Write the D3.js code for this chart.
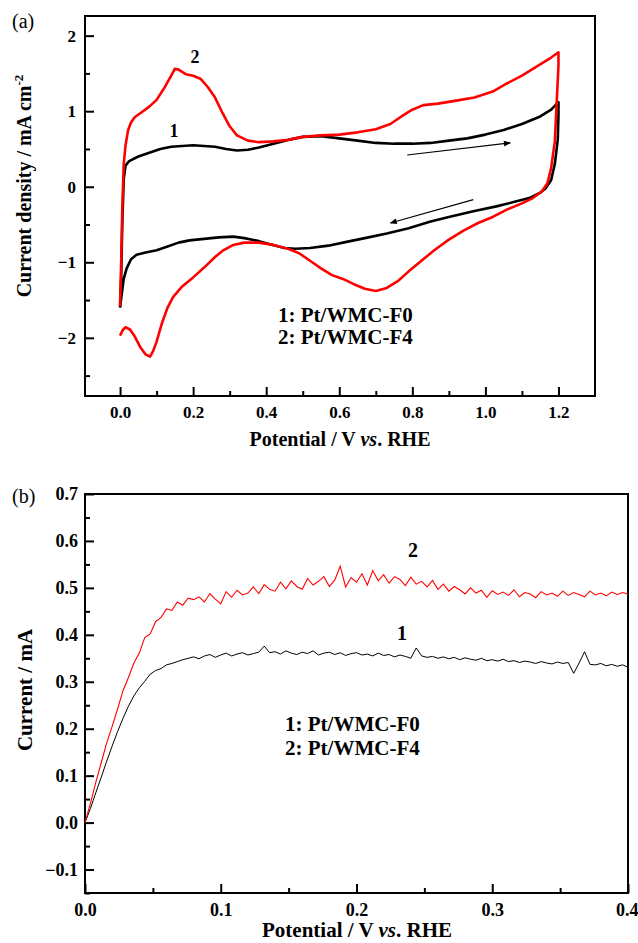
<!DOCTYPE html>
<html>
<head>
<meta charset="utf-8">
<script src="https://cdn.jsdelivr.net/npm/d3@7"></script>
<style>
  body { margin: 0; background: #fff; }
  text { font-family: "Liberation Serif", "Times New Roman", serif; }
</style>
</head>
<body>
<script>
'use strict';

// ---- panel (a): cyclic voltammograms, [potential, current density] ----
const cvF0 = [
  [0.0, -1.60], [0.003, -1.2], [0.006, -0.5], [0.01, 0.1], [0.015, 0.28], [0.025, 0.34],
  [0.05, 0.40], [0.08, 0.45], [0.11, 0.50], [0.14, 0.53], [0.17, 0.54], [0.2, 0.55],
  [0.23, 0.54], [0.26, 0.53], [0.29, 0.50], [0.32, 0.48], [0.35, 0.49], [0.38, 0.52],
  [0.42, 0.57], [0.46, 0.62], [0.5, 0.66], [0.55, 0.67], [0.6, 0.64], [0.65, 0.61],
  [0.7, 0.58], [0.75, 0.57], [0.8, 0.57], [0.85, 0.58], [0.9, 0.61], [0.95, 0.64],
  [1.0, 0.69], [1.05, 0.75], [1.1, 0.83], [1.15, 0.93], [1.18, 1.02], [1.2, 1.12],
  [1.2, 0.95], [1.198, 0.62], [1.19, 0.3], [1.18, 0.09], [1.165, -0.02], [1.15, -0.08],
  [1.12, -0.15], [1.08, -0.2], [1.03, -0.26], [0.97, -0.32], [0.9, -0.40], [0.85, -0.46],
  [0.79, -0.55], [0.73, -0.62], [0.67, -0.68], [0.62, -0.73], [0.57, -0.78], [0.52, -0.81],
  [0.48, -0.82], [0.45, -0.81], [0.41, -0.76], [0.38, -0.72], [0.34, -0.68], [0.31, -0.66],
  [0.27, -0.67], [0.23, -0.69], [0.19, -0.71], [0.16, -0.74], [0.13, -0.79], [0.1, -0.84],
  [0.07, -0.87], [0.045, -0.9], [0.03, -0.96], [0.018, -1.08], [0.01, -1.22], [0.005, -1.4],
  [0.0, -1.6]
];

const cvF4 = [
  [0.0, -1.58], [0.003, -1.0], [0.006, -0.3], [0.01, 0.3], [0.015, 0.55], [0.022, 0.75],
  [0.03, 0.85], [0.04, 0.92], [0.06, 0.99], [0.08, 1.06], [0.1, 1.15], [0.12, 1.30],
  [0.14, 1.47], [0.15, 1.56], [0.16, 1.55], [0.18, 1.49], [0.2, 1.47], [0.22, 1.43],
  [0.24, 1.32], [0.26, 1.18], [0.28, 0.98], [0.3, 0.80], [0.32, 0.68], [0.35, 0.61],
  [0.38, 0.59], [0.42, 0.60], [0.46, 0.62], [0.5, 0.66], [0.55, 0.68], [0.6, 0.69],
  [0.65, 0.72], [0.7, 0.76], [0.74, 0.83], [0.77, 0.93], [0.8, 1.02], [0.83, 1.08],
  [0.87, 1.1], [0.92, 1.14], [0.97, 1.18], [1.02, 1.26], [1.06, 1.37], [1.1, 1.47],
  [1.14, 1.59], [1.18, 1.71], [1.2, 1.78],
  [1.2, 1.6], [1.195, 1.1], [1.19, 0.6], [1.18, 0.25], [1.17, 0.05], [1.155, -0.06],
  [1.13, -0.15], [1.1, -0.22], [1.06, -0.3], [1.02, -0.4], [0.98, -0.48], [0.94, -0.58],
  [0.9, -0.70], [0.86, -0.84], [0.82, -1.0], [0.79, -1.12], [0.76, -1.25], [0.73, -1.34],
  [0.70, -1.38], [0.67, -1.35], [0.64, -1.29], [0.61, -1.22], [0.58, -1.17], [0.55, -1.08],
  [0.52, -0.98], [0.49, -0.88], [0.46, -0.82], [0.42, -0.77], [0.38, -0.74], [0.34, -0.74],
  [0.31, -0.77], [0.28, -0.85], [0.26, -0.93], [0.23, -1.07], [0.2, -1.2], [0.17, -1.32],
  [0.145, -1.46], [0.13, -1.6], [0.115, -1.8], [0.1, -2.05], [0.09, -2.18], [0.082, -2.25],
  [0.07, -2.22], [0.055, -2.12], [0.04, -1.98], [0.027, -1.89], [0.015, -1.86], [0.007, -1.9],
  [0.0, -1.97]
];

// scan direction arrows, [x1, y1, x2, y2] in data units
const cvArrows = [
  [0.786, 0.42, 1.068, 0.58],
  [0.967, -0.17, 0.74, -0.48]
];

const cvTicksX = [0.0, 0.2, 0.4, 0.6, 0.8, 1.0, 1.2];
const cvTicksY = [-2, -1, 0, 1, 2];

// ---- panel (b): linear sweeps, potential step 0.004 V ----
const lsvPotential = d3.range(0, 101).map(i => +(i * 0.004).toFixed(3));

const lsvF0 = [
  0.000, 0.030, 0.064, 0.097, 0.131, 0.163, 0.194, 0.222, 0.248, 0.270,
  0.287, 0.301, 0.316, 0.324, 0.328, 0.336, 0.339, 0.343, 0.347, 0.350,
  0.353, 0.349, 0.355, 0.358, 0.352, 0.357, 0.361, 0.355, 0.359, 0.362,
  0.357, 0.360, 0.363, 0.376, 0.362, 0.364, 0.359, 0.366, 0.361, 0.358,
  0.363, 0.360, 0.366, 0.357, 0.361, 0.363, 0.358, 0.362, 0.356, 0.360,
  0.362, 0.357, 0.359, 0.355, 0.361, 0.356, 0.358, 0.353, 0.357, 0.354,
  0.350, 0.372, 0.355, 0.352, 0.354, 0.350, 0.353, 0.349, 0.352, 0.347,
  0.351, 0.348, 0.346, 0.350, 0.345, 0.347, 0.344, 0.348, 0.343, 0.345,
  0.341, 0.344, 0.342, 0.339, 0.343, 0.340, 0.338, 0.342, 0.339, 0.341,
  0.318, 0.340, 0.364, 0.337, 0.336, 0.339, 0.334, 0.337, 0.333, 0.336,
  0.331
];

const lsvF4 = [
  0.000, 0.041, 0.086, 0.128, 0.170, 0.205, 0.242, 0.281, 0.309, 0.340,
  0.361, 0.394, 0.402, 0.428, 0.437, 0.455, 0.452, 0.470, 0.463, 0.478,
  0.475, 0.481, 0.470, 0.488, 0.476, 0.466, 0.492, 0.480, 0.495, 0.485,
  0.489, 0.502, 0.488, 0.507, 0.497, 0.493, 0.512, 0.498, 0.515, 0.503,
  0.497, 0.520, 0.506, 0.514, 0.524, 0.503, 0.517, 0.546, 0.502, 0.522,
  0.512, 0.530, 0.506, 0.537, 0.515, 0.528, 0.510, 0.524, 0.518, 0.505,
  0.523, 0.508, 0.514, 0.502, 0.516, 0.497, 0.508, 0.493, 0.503, 0.496,
  0.487, 0.500, 0.489, 0.495, 0.480, 0.494, 0.486, 0.491, 0.484, 0.496,
  0.481, 0.490, 0.487, 0.479, 0.492, 0.485, 0.489, 0.482, 0.493, 0.484,
  0.490, 0.486, 0.481, 0.493, 0.485, 0.489, 0.483, 0.491, 0.486, 0.490,
  0.487
];

const lsvTicksX = [0.0, 0.1, 0.2, 0.3, 0.4];
const lsvTicksY = [-0.1, 0.0, 0.1, 0.2, 0.3, 0.4, 0.5, 0.6, 0.7];

const legendLabels = ['1: Pt/WMC-F0', '2: Pt/WMC-F4'];

let svgContainer = d3.select('body')
  .append('svg')
  .attr('width', 638)
  .attr('height', 943);

svgContainer.append('defs').append('marker')
  .attr('id', 'arrowhead')
  .attr('viewBox', '0 0 10 10')
  .attr('refX', 9)
  .attr('refY', 5)
  .attr('markerWidth', 9)
  .attr('markerHeight', 7)
  .attr('markerUnits', 'userSpaceOnUse')
  .attr('orient', 'auto')
  .append('path')
  .attr('d', 'M0,1 L10,5 L0,9 z')
  .attr('fill', '#000');

// draw a framed panel with inward major/minor ticks, returns scales
function drawFrame(opt) {
  let xScale = d3.scaleLinear().domain(opt.xDomain).range([opt.left, opt.right]);
  let yScale = d3.scaleLinear().domain(opt.yDomain).range([opt.bottom, opt.top]);
  let g = svgContainer.append('g');

  // minor ticks
  g.append('g')
    .attr('transform', 'translate(0,' + opt.bottom + ')')
    .call(d3.axisBottom(xScale).tickValues(opt.xMinor).tickSize(-5).tickFormat(''));
  g.append('g')
    .attr('transform', 'translate(' + opt.left + ',0)')
    .call(d3.axisLeft(yScale).tickValues(opt.yMinor).tickSize(-5).tickFormat(''));

  // major ticks with labels
  let xAxisG = g.append('g')
    .attr('transform', 'translate(0,' + opt.bottom + ')')
    .call(d3.axisBottom(xScale).tickValues(opt.xTicks).tickSize(-9).tickPadding(opt.xPad)
      .tickFormat(opt.xFormat));
  xAxisG.selectAll('text').style('font-size', opt.tickFont + 'px');

  g.append('g')
    .attr('transform', 'translate(' + opt.left + ',0)')
    .call(d3.axisLeft(yScale).tickValues(opt.yTicks).tickSize(-9).tickPadding(opt.yPad)
      .tickFormat(opt.yFormat))
    .selectAll('text')
    .style('font-size', opt.tickFont + 'px');

  g.selectAll('.domain').remove();
  g.selectAll('.tick line').attr('stroke', '#000').attr('stroke-width', 2);
  g.selectAll('.tick text')
    .attr('fill', '#000')
    .style('font-weight', 'bold')
    .style('font-family', '"Liberation Serif", serif');

  g.append('rect')
    .attr('x', opt.left)
    .attr('y', opt.top)
    .attr('width', opt.right - opt.left)
    .attr('height', opt.bottom - opt.top)
    .attr('fill', 'none')
    .attr('stroke', '#000')
    .attr('stroke-width', 2);

  return { x: xScale, y: yScale, xAxis: xAxisG };
}

function addText(x, y, str, size, bold, anchor) {
  return svgContainer.append('text')
    .attr('x', x)
    .attr('y', y)
    .attr('text-anchor', anchor || 'start')
    .style('font-size', size + 'px')
    .style('font-weight', bold ? 'bold' : 'normal')
    .text(str);
}

// ---------- panel (a) ----------
let a = drawFrame({
  left: 85, right: 595, top: 16, bottom: 396,
  xDomain: [-0.096, 1.3], yDomain: [-2.77, 2.26],
  xTicks: cvTicksX, yTicks: cvTicksY,
  xMinor: d3.range(0.1, 1.3, 0.2), yMinor: [-2.5, -1.5, -0.5, 0.5, 1.5],
  xFormat: d3.format('.1f'), yFormat: d3.format('d'),
  tickFont: 17, xPad: 10, yPad: 9
});

let cvLine = d3.line().x(d => a.x(d[0])).y(d => a.y(d[1]));

svgContainer.append('path')
  .datum(cvF0)
  .attr('d', cvLine)
  .attr('fill', 'none')
  .attr('stroke', '#000')
  .attr('stroke-width', 2.6)
  .attr('stroke-linejoin', 'round');

svgContainer.append('path')
  .datum(cvF4)
  .attr('d', cvLine)
  .attr('fill', 'none')
  .attr('stroke', '#ff0000')
  .attr('stroke-width', 2.6)
  .attr('stroke-linejoin', 'round');

svgContainer.selectAll('.cv-arrow')
  .data(cvArrows)
  .enter()
  .append('line')
  .attr('class', 'cv-arrow')
  .attr('x1', d => a.x(d[0]))
  .attr('y1', d => a.y(d[1]))
  .attr('x2', d => a.x(d[2]))
  .attr('y2', d => a.y(d[3]))
  .attr('stroke', '#000')
  .attr('stroke-width', 1.2)
  .attr('marker-end', 'url(#arrowhead)');

addText(12, 28, '(a)', 20, false);
addText(195, 63, '2', 18, true, 'middle');
addText(174, 137, '1', 18, true, 'middle');
addText(278, 322, legendLabels[0], 21, true);
addText(278, 344, legendLabels[1], 21, true);

let xTitleA = addText(340, 446, 'Potential / V ', 20, true, 'middle');
xTitleA.append('tspan').style('font-style', 'italic').text('vs');
xTitleA.append('tspan').text('. RHE');

let yTitleA = svgContainer.append('text')
  .attr('transform', 'translate(31,186)rotate(-90)')
  .attr('text-anchor', 'middle')
  .style('font-size', '20px')
  .style('font-weight', 'bold')
  .text('Current density / mA cm');
yTitleA.append('tspan').attr('dy', -8).style('font-size', '13px').text('-2');

// ---------- panel (b) ----------
let b = drawFrame({
  left: 85, right: 628, top: 494, bottom: 893,
  xDomain: [0, 0.4], yDomain: [-0.15, 0.7],
  xTicks: lsvTicksX, yTicks: lsvTicksY,
  xMinor: [0.05, 0.15, 0.25, 0.35], yMinor: d3.range(-0.15, 0.7, 0.1),
  xFormat: d3.format('.1f'), yFormat: d3.format('.1f'),
  tickFont: 18, xPad: 10, yPad: 7
});

// keep the last x label inside the page
b.xAxis.selectAll('.tick text')
  .filter(d => d === 0.4)
  .attr('text-anchor', 'end')
  .attr('dx', 10);

let lsvLine = values => d3.line()
  .x((d, i) => b.x(lsvPotential[i]))
  .y(d => b.y(d))(values);

svgContainer.append('path')
  .attr('d', lsvLine(lsvF0))
  .attr('fill', 'none')
  .attr('stroke', '#000')
  .attr('stroke-width', 1);

svgContainer.append('path')
  .attr('d', lsvLine(lsvF4))
  .attr('fill', 'none')
  .attr('stroke', '#ff0000')
  .attr('stroke-width', 1.1);

addText(12, 503, '(b)', 20, false);
addText(413, 557, '2', 20, true, 'middle');
addText(402, 640, '1', 20, true, 'middle');
addText(285, 731, legendLabels[0], 21, true);
addText(285, 755, legendLabels[1], 21, true);

let xTitleB = addText(357, 937, 'Potential / V ', 21, true, 'middle');
xTitleB.append('tspan').style('font-style', 'italic').text('vs');
xTitleB.append('tspan').text('. RHE');

svgContainer.append('text')
  .attr('transform', 'translate(32,690)rotate(-90)')
  .attr('text-anchor', 'middle')
  .style('font-size', '21px')
  .style('font-weight', 'bold')
  .text('Current / mA');
</script>
</body>
</html>
